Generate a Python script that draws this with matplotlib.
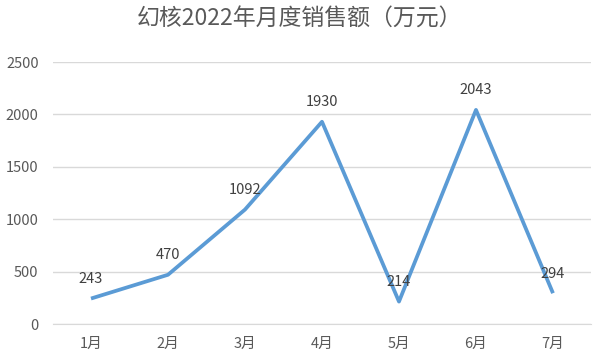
import matplotlib
matplotlib.use("Agg")
import matplotlib.pyplot as plt

plt.rcParams['font.family'] = ['Noto Sans CJK SC', 'DejaVu Sans']

months = ["1月", "2月", "3月", "4月", "5月", "6月", "7月"]
sales = [243, 470, 1092, 1930, 214, 2043, 294]
title = "幻核2022年月度销售额（万元）"

fig = plt.figure(figsize=(6, 3.57), dpi=100)
ax = fig.add_axes([0.0875, 0.0924, 0.8983, 0.7339])

x = list(range(len(months)))
ax.plot(x, sales, color="#5B9BD5", linewidth=2.7, solid_capstyle="butt", zorder=3)
for xi, v in zip(x, sales):
    ax.annotate(str(v), (xi, v), xytext=(0, 9), textcoords="offset points",
                ha="center", va="bottom", fontsize=10.5, color="#404040")

ax.set_xlim(-0.5, len(months) - 0.5)
ax.set_ylim(0, 2500)
ax.set_yticks(range(0, 2501, 500))
ax.set_xticks(x)
ax.set_xticklabels(months)
ax.grid(axis="y", color="#D9D9D9", linewidth=1)
ax.set_axisbelow(True)
for s in ["top", "right", "left"]:
    ax.spines[s].set_visible(False)
ax.spines["bottom"].set_color("#D9D9D9")
ax.tick_params(axis="both", length=0, labelsize=10.5, colors="#595959")
ax.tick_params(axis="x", pad=9)
ax.tick_params(axis="y", pad=10)

fig.text(0.5, 0.945, title, ha="center", va="center", fontsize=16.5, color="#595959")

fig.savefig("out.png", dpi=100)
